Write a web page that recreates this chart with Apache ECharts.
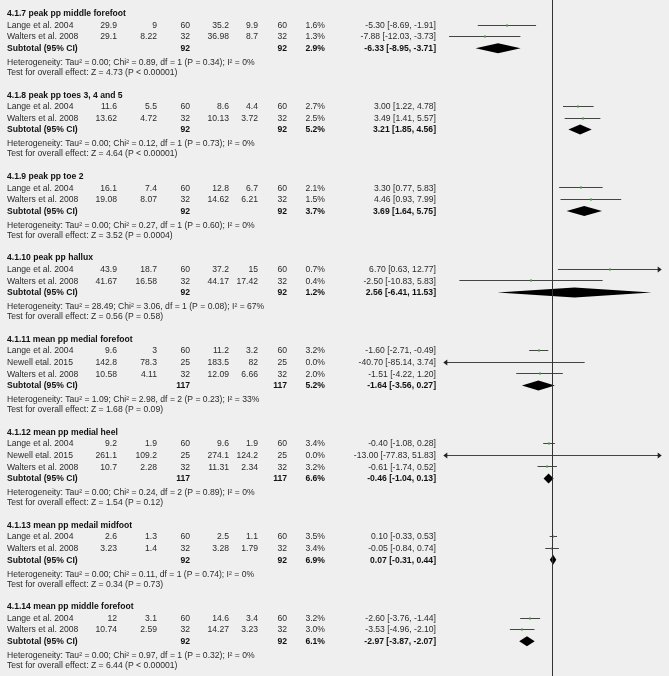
<!DOCTYPE html>
<html lang="en">
<head>
<meta charset="UTF-8">
<script src="https://cdn.jsdelivr.net/npm/echarts@6/dist/echarts.min.js"></script>
<title>Forest plot - plantar pressure</title>
<style>
  html, body { margin: 0; padding: 0; background: #efefef; }
  #main { width: 669px; height: 676px; }
</style>
</head>
<body>
<div id="main"></div>
<script>
  // subgroups
  var groupTitles = ['4.1.7 peak pp middle forefoot', '4.1.8 peak pp toes 3, 4 and 5', '4.1.9 peak pp toe 2',
    '4.1.10 peak pp hallux', '4.1.11 mean pp medial forefoot', '4.1.12 mean pp medial heel',
    '4.1.13 mean pp medail midfoot', '4.1.14 mean pp middle forefoot'];
  var studyNames = [
    ['Lange et al. 2004', 'Walters et al. 2008'],
    ['Lange et al. 2004', 'Walters et al. 2008'],
    ['Lange et al. 2004', 'Walters et al. 2008'],
    ['Lange et al. 2004', 'Walters et al. 2008'],
    ['Lange et al. 2004', 'Newell etal. 2015', 'Walters et al. 2008'],
    ['Lange et al. 2004', 'Newell etal. 2015', 'Walters et al. 2008'],
    ['Lange et al. 2004', 'Walters et al. 2008'],
    ['Lange et al. 2004', 'Walters et al. 2008']
  ];
  var expMean = [[29.9, 29.1], [11.6, 13.62], [16.1, 19.08], [43.9, 41.67], [9.6, 142.8, 10.58], [9.2, 261.1, 10.7], [2.6, 3.23], [12, 10.74]];
  var expSD   = [[9, 8.22], [5.5, 4.72], [7.4, 8.07], [18.7, 16.58], [3, 78.3, 4.11], [1.9, 109.2, 2.28], [1.3, 1.4], [3.1, 2.59]];
  var expN    = [[60, 32], [60, 32], [60, 32], [60, 32], [60, 25, 32], [60, 25, 32], [60, 32], [60, 32]];
  var ctlMean = [[35.2, 36.98], [8.6, 10.13], [12.8, 14.62], [37.2, 44.17], [11.2, 183.5, 12.09], [9.6, 274.1, 11.31], [2.5, 3.28], [14.6, 14.27]];
  var ctlSD   = [[9.9, 8.7], [4.4, 3.72], [6.7, 6.21], [15, 17.42], [3.2, 82, 6.66], [1.9, 124.2, 2.34], [1.1, 1.79], [3.4, 3.23]];
  var ctlN    = [[60, 32], [60, 32], [60, 32], [60, 32], [60, 25, 32], [60, 25, 32], [60, 32], [60, 32]];
  var weight  = [[1.6, 1.3], [2.7, 2.5], [2.1, 1.5], [0.7, 0.4], [3.2, 0.0, 2.0], [3.4, 0.0, 3.2], [3.5, 3.4], [3.2, 3.0]];
  var md      = [[-5.30, -7.88], [3.00, 3.49], [3.30, 4.46], [6.70, -2.50], [-1.60, -40.70, -1.51], [-0.40, -13.00, -0.61], [0.10, -0.05], [-2.60, -3.53]];
  var ciLow   = [[-8.69, -12.03], [1.22, 1.41], [0.77, 0.93], [0.63, -10.83], [-2.71, -85.14, -4.22], [-1.08, -77.83, -1.74], [-0.33, -0.84], [-3.76, -4.96]];
  var ciHigh  = [[-1.91, -3.73], [4.78, 5.57], [5.83, 7.99], [12.77, 5.83], [-0.49, 3.74, 1.20], [0.28, 51.83, 0.52], [0.53, 0.74], [-1.44, -2.10]];

  // subtotals
  var subN1 = [92, 92, 92, 92, 117, 117, 92, 92];
  var subN2 = [92, 92, 92, 92, 117, 117, 92, 92];
  var subWeight = [2.9, 5.2, 3.7, 1.2, 5.2, 6.6, 6.9, 6.1];
  var subMd = [-6.33, 3.21, 3.69, 2.56, -1.64, -0.46, 0.07, -2.97];
  var subLow = [-8.95, 1.85, 1.64, -6.41, -3.56, -1.04, -0.31, -3.87];
  var subHigh = [-3.71, 4.56, 5.75, 11.53, 0.27, 0.13, 0.44, -2.07];
  var tau2 = [0.00, 0.00, 0.00, 28.49, 1.09, 0.00, 0.00, 0.00];
  var chi2 = [0.89, 0.12, 0.27, 3.06, 2.98, 0.24, 0.11, 0.97];
  var dfHet = [1, 1, 1, 1, 2, 2, 1, 1];
  var pHet = [0.34, 0.73, 0.60, 0.08, 0.23, 0.89, 0.74, 0.32];
  var i2 = [0, 0, 0, 67, 33, 0, 0, 0];
  var zVal = [4.73, 4.64, 3.52, 0.56, 1.68, 1.54, 0.34, 6.44];
  var pZ = ['< 0.00001', '< 0.00001', '= 0.0004', '= 0.58', '= 0.09', '= 0.12', '= 0.73', '< 0.00001'];

  var XMIN = -12.7, XMAX = 12.7;
  var FONT_FAMILY = '"Liberation Sans", Arial, sans-serif';
  var FONT_SIZE = 8.6;
  var colX = [117, 157, 190, 229, 258, 287, 325];
  var effectX = 436;

  function fmtCI(m, lo, hi) {
    return m.toFixed(2) + ' [' + lo.toFixed(2) + ', ' + hi.toFixed(2) + ']';
  }

  var texts = [];
  var ciRows = [];
  var diamonds = [];

  // row layout
  var y = 25;
  groupTitles.forEach(function (title, g) {
    texts.push({ x: 7, y: y - 11.7, t: title, bold: true, align: 'left' });
    var n = studyNames[g].length;
    studyNames[g].forEach(function (name, i) {
      var ry = y + 11.6 * i;
      texts.push({ x: 7, y: ry, t: name, align: 'left' });
      [expMean, expSD, expN, ctlMean, ctlSD, ctlN].forEach(function (arr, c) {
        texts.push({ x: colX[c], y: ry, t: String(arr[g][i]), align: 'right' });
      });
      texts.push({ x: colX[6], y: ry, t: weight[g][i].toFixed(1) + '%', align: 'right' });
      texts.push({ x: effectX, y: ry, t: fmtCI(md[g][i], ciLow[g][i], ciHigh[g][i]), align: 'right' });
      ciRows.push([md[g][i], ry, ciLow[g][i], ciHigh[g][i]]);
    });
    var sy = y + 11.6 * n;
    texts.push({ x: 7, y: sy, t: 'Subtotal (95% CI)', bold: true, align: 'left' });
    texts.push({ x: colX[2], y: sy, t: String(subN1[g]), bold: true, align: 'right' });
    texts.push({ x: colX[5], y: sy, t: String(subN2[g]), bold: true, align: 'right' });
    texts.push({ x: colX[6], y: sy, t: subWeight[g].toFixed(1) + '%', bold: true, align: 'right' });
    texts.push({ x: effectX, y: sy, t: fmtCI(subMd[g], subLow[g], subHigh[g]), bold: true, align: 'right' });
    diamonds.push([subMd[g], sy, subLow[g], subHigh[g]]);
    var hy = sy + 14;
    texts.push({ x: 7, y: hy, align: 'left',
      t: 'Heterogeneity: Tau\u00b2 = ' + tau2[g].toFixed(2) + '; Chi\u00b2 = ' + chi2[g].toFixed(2) +
         ', df = ' + dfHet[g] + ' (P = ' + pHet[g].toFixed(2) + '); I\u00b2 = ' + i2[g] + '%' });
    var ty = hy + 10;
    texts.push({ x: 7, y: ty, align: 'left',
      t: 'Test for overall effect: Z = ' + zVal[g].toFixed(2) + ' (P ' + pZ[g] + ')' });
    y = ty + 34.2;
  });

  var chart = echarts.init(document.getElementById('main'));

  function crisp(v) { return Math.round(v - 0.5) + 0.5; }

  chart.setOption({
    animation: false,
    backgroundColor: '#efefef',
    grid: [
      { left: 0, top: 0, width: 669, height: 676 },
      { left: 443.3, top: 0, width: 218.4, height: 676 }
    ],
    xAxis: [
      { type: 'value', gridIndex: 0, min: 0, max: 669, show: false },
      { type: 'value', gridIndex: 1, min: XMIN, max: XMAX, show: false }
    ],
    yAxis: [
      { type: 'value', gridIndex: 0, min: 0, max: 676, inverse: true, show: false },
      { type: 'value', gridIndex: 1, min: 0, max: 676, inverse: true, show: false }
    ],
    series: [
      {
        type: 'custom',
        xAxisIndex: 0, yAxisIndex: 0,
        silent: true,
        data: texts.map(function (d) { return [d.x, d.y]; }),
        renderItem: function (params, api) {
          var d = texts[params.dataIndex];
          var p = api.coord([api.value(0), api.value(1)]);
          return {
            type: 'text',
            x: p[0], y: p[1] + 0.5,
            style: {
              text: d.t,
              fill: d.bold ? '#111' : '#2b2b2b',
              fontFamily: FONT_FAMILY,
              fontSize: FONT_SIZE,
              fontWeight: d.bold ? 'bold' : 'normal',
              align: d.align,
              verticalAlign: 'middle'
            }
          };
        }
      },
      {
        // study confidence intervals
        type: 'custom',
        xAxisIndex: 1, yAxisIndex: 1,
        silent: true,
        clip: false,
        data: ciRows,
        renderItem: function (params, api) {
          var m = api.value(0), ry = api.value(1), lo = api.value(2), hi = api.value(3);
          var a = api.coord([Math.max(lo, XMIN), ry]);
          var b = api.coord([Math.min(hi, XMAX), ry]);
          var yy = crisp(a[1]);
          var children = [{
            type: 'line',
            shape: { x1: a[0] + (lo < XMIN ? 3 : 0), y1: yy, x2: b[0] - (hi > XMAX ? 3 : 0), y2: yy },
            style: { stroke: '#444', lineWidth: 1 }
          }];
          if (lo < XMIN) {
            children.push({ type: 'polygon', shape: { points: [[a[0], yy], [a[0] + 4, yy - 3], [a[0] + 4, yy + 3]] },
              style: { fill: '#222' } });
          }
          if (hi > XMAX) {
            children.push({ type: 'polygon', shape: { points: [[b[0], yy], [b[0] - 4, yy - 3], [b[0] - 4, yy + 3]] },
              style: { fill: '#222' } });
          }
          if (m >= XMIN && m <= XMAX) {
            var c = api.coord([m, ry]);
            children.push({ type: 'rect', shape: { x: Math.round(c[0]) - 1, y: yy - 1, width: 2, height: 2 },
              style: { fill: '#3c9a3c' } });
          }
          return { type: 'group', children: children };
        },
        markLine: {
          silent: true,
          symbol: 'none',
          label: { show: false },
          lineStyle: { color: '#333', width: 1, type: 'solid' },
          data: [{ xAxis: 0 }]
        }
      },
      {
        // subtotal diamonds
        type: 'custom',
        xAxisIndex: 1, yAxisIndex: 1,
        silent: true,
        data: diamonds,
        renderItem: function (params, api) {
          var c = api.coord([api.value(0), api.value(1)]);
          var l = api.coord([api.value(2), api.value(1)]);
          var r = api.coord([api.value(3), api.value(1)]);
          return {
            type: 'polygon',
            shape: { points: [[l[0], c[1]], [c[0], c[1] - 5], [r[0], c[1]], [c[0], c[1] + 5]] },
            style: { fill: '#000' }
          };
        }
      }
    ]
  });
</script>
</body>
</html>
